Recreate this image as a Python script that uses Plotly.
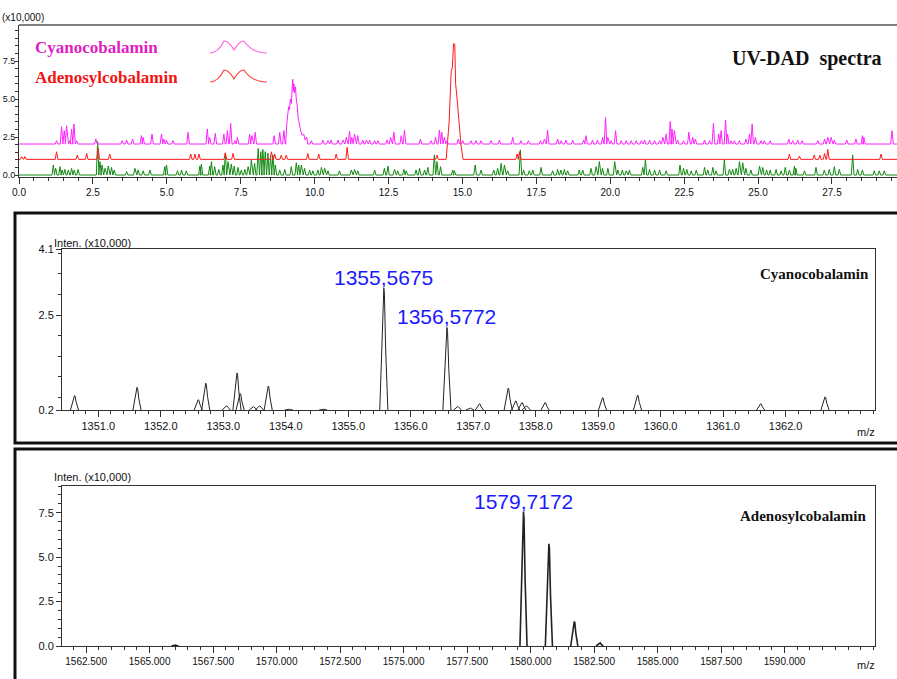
import plotly.graph_objects as go

W, H = 897, 679

# ---------------- DATA ----------------
# Top: UV-DAD chromatogram (x10,000), time axis 0..29.7
cyano_base = 2.04
cyano_spike_t = [1.27, 1.44, 1.53, 1.61, 1.72, 1.78, 1.86, 1.95, 2.60, 3.49, 3.64, 3.84, 4.14, 4.20,
                 4.50, 4.82, 4.90, 4.99, 5.21, 5.72, 6.37, 6.45, 6.64, 6.93, 7.05, 7.16, 7.30, 7.39,
                 7.80, 7.88, 7.99, 8.63, 8.82, 8.96,
                 9.89, 10.28, 10.45, 10.56, 10.79, 10.96, 11.07, 11.18, 11.26, 11.35, 11.46, 11.63,
                 11.75, 11.86, 12.03, 12.14, 12.45, 12.57, 12.68, 12.93, 13.04, 13.58, 13.94, 14.09,
                 14.22, 14.30, 14.39, 14.48, 14.86, 15.01, 15.29, 15.46, 15.63, 15.97, 16.25, 16.70,
                 16.98, 17.23, 17.64, 17.77, 17.88, 18.22, 18.34, 18.50, 18.73, 19.10, 19.18, 19.40,
                 19.57, 19.74, 19.84, 19.92, 20.03, 20.18, 20.37, 20.54, 20.71, 20.88, 21.05, 21.16,
                 21.33, 21.50, 21.67, 21.78, 21.89, 22.03, 22.09, 22.17, 22.28, 22.48, 22.66, 22.79,
                 22.88, 23.19, 23.36, 23.49, 23.67, 23.75, 23.90, 23.97, 24.09, 24.20, 24.37, 24.59,
                 24.71, 24.80, 24.91, 25.10, 25.21, 25.41, 26.04, 26.17, 26.34, 26.49, 27.02, 27.25,
                 27.36, 27.47, 27.58, 28.00, 28.31, 28.53, 28.58, 29.53]
cyano_spike_h = [0.22, 1.14, 0.88, 1.20, 0.22, 0.99, 1.32, 0.22, 0.33, 0.22, 0.26, 0.33, 0.55, 0.44,
                 0.66, 0.66, 0.33, 0.26, 0.22, 0.77, 0.99, 0.44, 0.70, 0.66, 0.88, 1.36, 0.22, 0.44,
                 0.66, 0.55, 0.77, 0.55, 0.77, 0.88,
                 0.22, 0.26, 0.22, 0.26, 0.26, 0.26, 0.44, 0.83, 0.44, 0.66, 0.55, 0.26,
                 0.26, 0.26, 0.22, 0.22, 0.26, 0.44, 0.77, 0.55, 0.92, 0.33, 0.22, 0.44,
                 0.92, 0.77, 0.44, 0.22, 0.33, 0.22, 0.22, 0.22, 0.22, 0.22, 0.26, 0.44,
                 0.22, 0.22, 0.22, 0.33, 0.92, 0.33, 0.22, 0.26, 0.26, 0.26, 0.55, 0.26,
                 0.26, 0.44, 1.75, 0.44, 0.22, 0.88, 0.22, 0.22, 0.22, 0.22, 0.22, 0.26,
                 0.26, 0.22, 0.22, 0.44, 0.66, 1.49, 0.99, 0.88, 0.26, 0.22, 0.77, 0.44,
                 0.33, 0.26, 0.22, 1.36, 0.66, 0.88, 1.58, 0.66, 0.22, 0.22, 0.22, 0.33,
                 0.66, 1.32, 0.44, 0.22, 0.22, 0.22, 0.33, 0.22, 0.26, 0.22, 0.22, 0.33,
                 0.44, 0.44, 0.26, 0.26, 0.33, 0.55, 0.44, 0.88]
cyano_peak_t = [9.02, 9.06, 9.09, 9.12, 9.15, 9.18, 9.21, 9.24, 9.26, 9.28, 9.30, 9.32, 9.35,
                9.38, 9.41, 9.44, 9.48, 9.53, 9.58, 9.63, 9.68, 9.73, 9.77]
cyano_peak_v = [2.04, 3.4, 4.0, 4.5, 4.3, 5.0, 4.7, 5.6, 6.3, 5.5, 6.0, 5.4, 5.8,
                5.0, 4.6, 3.8, 3.3, 2.9, 2.6, 2.7, 2.3, 2.5, 2.04]

adeno_base = 1.03
adeno_spike_t = [0.09, 0.20, 1.27, 1.97, 2.29, 2.68, 3.07, 5.81, 5.95, 6.09, 6.98, 7.24, 8.54,
                 8.65, 8.87, 9.04, 9.77, 10.14, 10.73, 11.10, 14.14, 16.85, 16.93, 26.06, 26.40,
                 26.90, 27.09, 27.25, 27.36, 29.16]
adeno_spike_h = [0.18, 0.18, 0.50, 0.28, 0.39, 0.72, 0.35, 0.35, 0.35, 0.35, 0.44, 0.39, 0.50,
                 0.35, 0.28, 0.28, 0.39, 0.35, 0.35, 0.79, 0.28, 0.35, 0.50, 0.35, 0.22,
                 0.28, 0.28, 0.39, 0.66, 0.35]
adeno_peak_t = [14.45, 14.55, 14.62, 14.66, 14.70, 14.74, 14.77, 14.82, 14.88, 14.95, 15.02]
adeno_peak_v = [1.03, 3.5, 6.8, 7.1, 8.65, 8.6, 6.0, 5.0, 3.6, 2.0, 1.03]

tic_base = 0.0
tic_spike_t = [1.16, 1.24, 1.39, 1.46, 1.55, 1.67, 1.78, 1.87, 2.00, 2.66, 2.74, 2.81, 2.91, 3.02,
               3.13, 3.22, 3.64, 3.92, 4.03, 4.20, 4.43, 4.93, 4.99, 5.36, 5.50, 5.66, 6.12, 6.17,
               6.45, 6.51, 6.62, 6.76, 6.90, 6.98, 7.07, 7.18, 7.28, 7.41, 7.52, 7.64, 7.75, 7.86,
               7.97, 8.09, 8.18, 8.25, 8.33, 8.42, 8.51, 8.59, 8.67, 8.82, 8.99, 9.21, 9.38, 9.46,
               9.55, 9.66, 9.83, 9.94, 10.11, 10.23, 10.34, 10.45, 10.84, 11.24, 11.35, 11.46, 12.03,
               12.36, 12.48, 12.70, 12.81, 13.02, 13.10, 13.43, 13.55, 13.72, 13.83, 14.05, 14.14,
               14.26, 14.67, 14.73, 15.43, 15.63, 16.06, 16.19, 16.31, 16.42, 16.53, 16.96, 17.07,
               17.26, 17.38, 17.66, 18.05, 18.22, 18.33, 18.45, 18.56, 18.95, 19.07, 19.35, 19.52,
               19.63, 19.74, 19.92, 20.15, 20.26, 20.41, 20.54, 20.65, 21.10, 21.19, 21.33, 21.50,
               21.67, 21.89, 22.36, 22.48, 22.59, 22.74, 22.91, 23.19, 23.30, 23.47, 23.58, 23.86,
               24.03, 24.14, 24.26, 24.37, 24.48, 24.59, 24.76, 25.05, 25.16, 25.29, 25.41, 25.61,
               25.78, 25.92, 26.06, 26.23, 26.28, 26.57, 26.96, 27.24, 27.41, 27.58, 27.75, 28.20,
               28.37, 28.53, 28.93, 29.10, 29.27]
tic_spike_h = [0.66, 0.44, 0.55, 0.33, 0.37, 0.33, 0.44, 0.33, 0.37, 2.20, 0.88, 0.66, 0.44, 0.59,
               0.50, 0.33, 0.22, 0.44, 0.33, 0.28, 0.33, 0.55, 0.66, 0.28, 0.33, 0.28, 0.59, 0.72,
               0.59, 0.88, 0.55, 0.37, 0.66, 1.43, 0.88, 0.72, 0.59, 0.50, 0.33, 0.37, 0.55, 0.99,
               0.77, 1.75, 1.54, 1.68, 1.54, 1.43, 1.21, 1.32, 0.66, 0.33, 0.37, 0.55, 0.81, 0.66,
               0.66, 0.44, 0.33, 0.28, 0.33, 0.50, 0.44, 0.28, 0.28, 0.33, 0.37, 0.28, 0.33,
               0.44, 0.59, 0.37, 0.28, 0.37, 0.28, 0.33, 0.44, 0.33, 0.50, 1.32, 0.88,
               0.55, 0.33, 0.28, 0.66, 0.33, 0.33, 0.44, 0.77, 0.66, 0.28, 1.65, 0.33,
               0.28, 0.33, 0.50, 0.28, 0.37, 0.33, 0.37, 0.28, 0.33, 0.33, 0.44, 0.55,
               0.88, 0.44, 0.44, 0.88, 0.33, 0.33, 0.28, 0.33, 0.50, 0.99, 0.37, 0.33,
               0.33, 0.28, 0.66, 0.44, 0.37, 0.28, 0.33, 0.50, 0.33, 0.50, 0.28, 0.99,
               0.37, 0.37, 0.44, 0.88, 0.81, 0.44, 0.33, 0.59, 0.50, 0.33, 0.33, 0.37,
               0.28, 0.50, 0.33, 0.59, 0.44, 0.28, 0.50, 0.33, 0.37, 0.55, 0.37, 1.32,
               0.37, 0.33, 0.28, 0.28, 0.28]

time_ticks = [0.0, 2.5, 5.0, 7.5, 10.0, 12.5, 15.0, 17.5, 20.0, 22.5, 25.0, 27.5]
uv_yticks = [0.0, 2.5, 5.0, 7.5]

# Middle: MS spectrum, Cyanocobalamin
cy_mz = [1350.62, 1351.62, 1352.60, 1352.72, 1353.05, 1353.22, 1353.27, 1353.48, 1353.58, 1353.72,
         1354.05, 1354.60, 1355.57, 1356.58, 1356.75, 1356.95, 1357.10, 1357.56, 1357.68, 1357.78,
         1357.85, 1358.15, 1359.07, 1359.63, 1361.60, 1362.63]
cy_int = [0.55, 0.75, 0.45, 0.85, 0.30, 1.10, 0.60, 0.28, 0.30, 0.78,
          0.22, 0.22, 3.15, 2.20, 0.28, 0.25, 0.35, 0.73, 0.42, 0.38,
          0.30, 0.38, 0.50, 0.56, 0.35, 0.52]
cy_xticks = [1351.0, 1352.0, 1353.0, 1354.0, 1355.0, 1356.0, 1357.0, 1358.0, 1359.0, 1360.0,
             1361.0, 1362.0]
cy_yticks = [0.2, 2.5, 4.1]
cy_labels = ["1355,5675", "1356,5772"]
cy_label_mz = [1355.57, 1356.58]
cy_label_int = [3.15, 2.20]

# Bottom: MS spectrum, Adenosylcobalamin
ad_mz = [1566.0, 1579.72, 1580.72, 1581.72, 1582.72]
ad_int = [0.06, 7.55, 5.75, 1.38, 0.18]
ad_xticks = [1562.5, 1565.0, 1567.5, 1570.0, 1572.5, 1575.0, 1577.5, 1580.0, 1582.5, 1585.0,
             1587.5, 1590.0]
ad_yticks = [0.0, 2.5, 5.0, 7.5]
ad_labels = ["1579,7172"]
ad_label_mz = [1579.72]
ad_label_int = [7.55]

# ---------------- helpers ----------------
def px(x):
    return x / W

def py(y):
    return 1 - y / H

def spiky(base, st, sh, hw, x0, x1, pk_t=None, pk_v=None):
    blocks = [(t, [(t - hw, base), (t, base + h), (t + hw, base)]) for t, h in zip(st, sh)]
    if pk_t:
        blocks.append((pk_t[0], list(zip(pk_t, pk_v))))
    blocks.sort(key=lambda b: b[0])
    xs, ys = [x0], [base]
    for _, pts in blocks:
        for a, b in pts:
            xs.append(a)
            ys.append(b)
    xs.append(x1)
    ys.append(base)
    return xs, ys

def ms_profile(mz, inten, base, hw):
    xs, ys = [], []
    for m, h in sorted(zip(mz, inten)):
        d = h - base
        xs += [m - hw, m - hw * 0.45, m - hw * 0.15, m, m + hw * 0.15, m + hw * 0.45, m + hw, None]
        ys += [base, base + 0.55 * d, base + 0.95 * d, h, base + 0.95 * d, base + 0.5 * d, base, None]
    return xs, ys

SANS = "Liberation Sans, Arial, sans-serif"
SERIF = "Liberation Serif, Times New Roman, DejaVu Serif, serif"

fig = go.Figure()

T0, T1 = 0.0, 29.7
x, y = spiky(tic_base, tic_spike_t, tic_spike_h, 0.045, T0, T1)
fig.add_trace(go.Scatter(x=x, y=y, mode="lines", line=dict(color="#118a11", width=1), xaxis="x", yaxis="y"))
x, y = spiky(adeno_base, adeno_spike_t, adeno_spike_h, 0.045, T0, T1, adeno_peak_t, adeno_peak_v)
fig.add_trace(go.Scatter(x=x, y=y, mode="lines", line=dict(color="#ff1a1a", width=1), xaxis="x", yaxis="y"))
x, y = spiky(cyano_base, cyano_spike_t, cyano_spike_h, 0.045, T0, T1, cyano_peak_t, cyano_peak_v)
fig.add_trace(go.Scatter(x=x, y=y, mode="lines", line=dict(color="#ff22ff", width=1), xaxis="x", yaxis="y"))

x, y = ms_profile(cy_mz, cy_int, 0.2, 0.065)
fig.add_trace(go.Scatter(x=x, y=y, mode="lines", line=dict(color="#222222", width=1), xaxis="x2", yaxis="y2"))

x, y = ms_profile(ad_mz, ad_int, 0.0, 0.14)
fig.add_trace(go.Scatter(x=x, y=y, mode="lines", line=dict(color="#222222", width=1.6), xaxis="x3", yaxis="y3"))

def xax(domain, rng, tv, tt, anchor, minor_dt, mirror=False, fs=11):
    return dict(domain=domain, range=rng, tickmode="array", tickvals=tv, ticktext=tt,
                ticks="outside", ticklen=6, tickwidth=1, tickcolor="#333",
                minor=dict(dtick=minor_dt, tick0=0, ticklen=3, ticks="outside", tickcolor="#333"),
                showline=True, linecolor="#333", linewidth=1, mirror=mirror, automargin=False,
                showgrid=False, zeroline=False, anchor=anchor,
                tickfont=dict(family=SANS, size=fs, color="#111"), fixedrange=True)

def yax(domain, rng, tv, tt, anchor, minor_dt, mirror=False, fs=11, tl=5):
    return dict(domain=domain, range=rng, tickmode="array", tickvals=tv, ticktext=tt,
                ticks="outside", ticklen=tl, tickwidth=1, tickcolor="#333",
                minor=dict(dtick=minor_dt, tick0=0, ticklen=3, ticks="outside", tickcolor="#333"),
                showline=True, linecolor="#333", linewidth=1, mirror=mirror, automargin=False,
                showgrid=False, zeroline=False, anchor=anchor,
                tickfont=dict(family=SANS, size=fs, color="#111"), fixedrange=True)

layout = dict(
    width=W, height=H, margin=dict(l=0, r=0, t=0, b=0, autoexpand=False),
    paper_bgcolor="white", plot_bgcolor="white", showlegend=False,
    xaxis=xax([px(19), 1.0], [T0, T1], time_ticks, ["%.1f" % v for v in time_ticks], "y", 0.5, fs=10),
    yaxis=yax([py(177), py(25)], [-0.13, 9.87], uv_yticks, ["%.1f" % v for v in uv_yticks], "x", 0.5, fs=9, tl=3),
    xaxis2=xax([px(62), px(875)], [1350.42, 1363.43], cy_xticks, ["%.1f" % v for v in cy_xticks], "y2", 0.2, True),
    yaxis2=yax([py(410), py(249)], [0.2, 4.1], cy_yticks, ["%.1f" % v for v in cy_yticks], "x2", 0.5, True),
    xaxis3=xax([px(62), px(875)], [1561.55, 1593.56], ad_xticks, ["%.3f" % v for v in ad_xticks], "y3", 0.5, True, fs=10),
    yaxis3=yax([py(646), py(486)], [0.0, 9.0], ad_yticks, ["%.1f" % v for v in ad_yticks], "x3", 0.5, True),
)
fig.update_layout(**layout)
fig.update_yaxes(ticklabelstandoff=-2, selector=dict(anchor="x"))

ann = []
def text(x, y, s, size, family=SANS, color="#111", xanchor="left", bold=False):
    ann.append(dict(x=px(x), y=py(y), xref="paper", yref="paper", text=("<b>%s</b>" % s) if bold else s,
                    showarrow=False, xanchor=xanchor, yanchor="middle",
                    font=dict(family=family, size=size, color=color)))

text(0, 17, "(x10,000)", 10)
text(33, 48, "Cyanocobalamin", 17, SERIF, "#e01ec4", bold=True)
text(33, 77, "Adenosylcobalamin", 17, SERIF, "#f21414", bold=True)
text(884, 58, "UV-DAD&nbsp;&nbsp;spectra", 20, SERIF, "#111", "right", bold=True)
text(52, 243, "Inten. (x10,000)", 11)
text(871, 274, "Cyanocobalamin", 15, SERIF, "#111", "right", bold=True)
text(855, 432, "m/z", 11)
text(52, 477, "Inten. (x10,000)", 11)
text(869, 516, "Adenosylcobalamin", 15, SERIF, "#111", "right", bold=True)
text(855, 665, "m/z", 11)

for s, m, h in zip(cy_labels, cy_label_mz, cy_label_int):
    ann.append(dict(x=m, y=h, xref="x2", yref="y2", text=s, showarrow=False, xanchor="center",
                    yanchor="bottom", yshift=-3, font=dict(family=SANS, size=21, color="#1a1aff")))
for s, m, h in zip(ad_labels, ad_label_mz, ad_label_int):
    ann.append(dict(x=m, y=h, xref="x3", yref="y3", text=s, showarrow=False, xanchor="center",
                    yanchor="bottom", yshift=-3, font=dict(family=SANS, size=21, color="#1a1aff")))
fig.update_layout(annotations=ann)

shapes = []
# top border line of chromatogram
shapes.append(dict(type="line", xref="paper", yref="paper", x0=px(19), x1=1.0, y0=py(25), y1=py(25),
                   line=dict(color="#555", width=1.5)))
# frames around MS panels
shapes.append(dict(type="rect", xref="paper", yref="paper", x0=px(15), x1=1.02, y0=py(443), y1=py(213),
                   line=dict(color="#111", width=3)))
shapes.append(dict(type="rect", xref="paper", yref="paper", x0=px(15), x1=1.02, y0=-0.02, y1=py(449),
                   line=dict(color="#111", width=3)))

# small wavy legend glyphs
def wave(x0, yb, color):
    pts = [(x0, yb), (x0 + 8, yb), (x0 + 14, yb - 12), (x0 + 19, yb - 12), (x0 + 24, yb - 3),
           (x0 + 29, yb - 12), (x0 + 34, yb - 12), (x0 + 42, yb), (x0 + 57, yb)]
    d = "M %f,%f" % (px(pts[0][0]), py(pts[0][1]))
    for i in range(1, len(pts) - 1, 2):
        d += " Q %f,%f %f,%f" % (px(pts[i][0]), py(pts[i][1]), px(pts[i + 1][0]), py(pts[i + 1][1]))
    shapes.append(dict(type="path", xref="paper", yref="paper", path=d, line=dict(color=color, width=1.2)))

wave(210, 53, "#ff66dd")
wave(210, 82, "#ff4444")
fig.update_layout(shapes=shapes)

fig.write_html("out.html", config={"displayModeBar": False, "staticPlot": True},
               post_script="document.body.style.margin='0px';document.body.style.overflow='hidden';")
